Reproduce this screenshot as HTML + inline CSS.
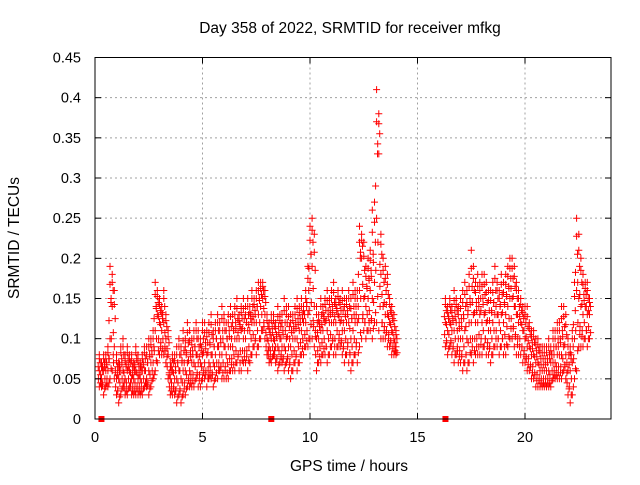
<!DOCTYPE html>
<html><head><meta charset="utf-8"><style>
body{margin:0;background:#fff}
svg text{font-family:"Liberation Sans",sans-serif;font-size:14.5px;fill:#000}
svg text.t{font-size:15.5px}
</style></head><body>
<svg id="chart" width="640" height="480" viewBox="0 0 640 480" xmlns="http://www.w3.org/2000/svg">
<rect width="640" height="480" fill="#fff"/>
<g id="grid"></g>
<g id="marks"></g>
<g id="axes"></g>
<text class="t" x="350" y="33" text-anchor="middle">Day 358 of 2022, SRMTID for receiver mfkg</text>
<text class="t" x="349" y="471" text-anchor="middle">GPS time / hours</text>
<text class="t" x="19" y="238" text-anchor="middle" transform="rotate(-90 19 238)">SRMTID / TECUs</text>
</svg>
<script>
const xTicks=[0,5,10,15,20];
const yTicks=[0,0.05,0.1,0.15,0.2,0.25,0.3,0.35,0.4,0.45];
const yTickLabels=["0","0.05","0.1","0.15","0.2","0.25","0.3","0.35","0.4","0.45"];
const tA=[0.2,0.3,0.4,0.5,0.6,0.7,0.8,0.9,1.0,1.1,1.2,1.3,1.4,1.5,1.6,1.7,1.8,1.9,2.0,2.1,2.2,2.3,2.4,2.5,2.6,2.7,2.8,2.9,3.0,3.1,3.2,3.3,3.4,3.5,3.6,3.7,3.8,3.9,4.0,4.1,4.2,4.3,4.4,4.5,4.6,4.7,4.8,4.9,5.0,5.1,5.2,5.3,5.4,5.5,5.6,5.7,5.8,5.9,6.0,6.1,6.2,6.3,6.4,6.5,6.6,6.7,6.8,6.9,7.0,7.1,7.2,7.3,7.4,7.5,7.6,7.7,7.8,7.9,8.0,8.1,8.2,8.3,8.4,8.5,8.6,8.7,8.8,8.9,9.0,9.1,9.2,9.3,9.4,9.5,9.6,9.7,9.8,9.9,10.0,10.1,10.2,10.3,10.4,10.5,10.6,10.7,10.8,10.9,11.0,11.1,11.2,11.3,11.4,11.5,11.6,11.7,11.8,11.9,12.0,12.1,12.2,12.3,12.4,12.5,12.6,12.7,12.8,12.9,13.0,13.1,13.2,13.3,13.4,13.5,13.6,13.7,13.8,13.9,14.0,
16.3,16.4,16.5,16.6,16.7,16.8,16.9,17.0,17.1,17.2,17.3,17.4,17.5,17.6,17.7,17.8,17.9,18.0,18.1,18.2,18.3,18.4,18.5,18.6,18.7,18.8,18.9,19.0,19.1,19.2,19.3,19.4,19.5,19.6,19.7,19.8,19.9,20.0,20.1,20.2,20.3,20.4,20.5,20.6,20.7,20.8,20.9,21.0,21.1,21.2,21.3,21.4,21.5,21.6,21.7,21.8,21.9,22.0,22.1,22.2,22.3,22.4,22.5,22.6,22.7,22.8,22.9,23.0];
const lo=[4,4,3,4,4,5,6,5,3,2,3,4,3,3,4,3,3,3,3,3,3,4,4,3,4,5,6,7,8,8,8,7,5,3,3,3,2,3,2,3,3,4,4,4,4,5,4,4,5,5,4,5,5,4,5,5,6,5,5,5,5,6,6,6,7,6,6,7,7,6,7,8,9,8,9,10,11,10,8,7,7,8,7,6,7,7,6,7,6,5,6,7,6,7,8,8,9,9,10,10,9,6,7,7,8,8,7,8,9,8,8,9,9,8,7,8,7,6,7,8,7,9,10,11,10,11,11,10,12,12,11,10,10,10,9,9,8,8,8,
9,8,9,8,7,8,7,7,6,7,6,7,8,7,8,8,8,8,9,8,8,7,8,9,9,8,9,8,8,9,10,10,9,8,8,8,7,7,6,6,5,5,4,4,4,4,4,4,4,4,5,5,5,5,5,6,5,3,2,3,5,6,9,9,9,10,9,10];
const mid=[6,5,6,6,6,10,14,9,5,5,6,6,5,6,6,5,5,6,5,5,6,6,5,6,7,7,11,13,12,11,12,10,8,5,6,5,5,6,5,6,6,7,6,7,7,8,7,7,8,7,8,7,8,7,8,9,8,8,9,8,9,9,9,10,10,10,11,10,10,11,11,12,12,12,13,14,15,13,10,9,10,10,9,9,10,9,9,10,9,9,10,10,10,11,11,12,12,13,17,19,14,10,10,11,11,12,11,12,12,12,12,13,12,11,11,12,12,10,11,12,12,16,20,15,14,15,16,15,17,25,33,18,14,13,13,12,11,10,9,
12,11,12,11,11,12,10,10,10,11,10,12,12,13,12,12,13,12,13,12,11,11,12,13,13,12,13,12,13,14,15,15,14,13,12,12,11,10,9,9,8,8,7,7,6,6,6,6,6,7,7,7,8,8,8,9,8,6,6,7,10,16,15,14,13,14,13,13];
const hi=[8,7,8,8,9,19,18,16,8,7,9,10,8,9,8,8,7,9,8,7,8,9,9,10,10,11,17,16,15,14,16,13,11,7,8,8,9,10,9,11,10,12,11,10,11,12,11,10,12,12,11,12,13,11,12,13,12,14,13,12,13,14,13,14,15,13,14,15,14,15,14,16,15,16,17,17,17,16,13,12,13,13,12,14,13,13,15,14,14,13,13,14,15,14,15,14,16,19,24,25,23,14,13,15,14,15,16,15,16,17,15,16,15,16,15,15,16,15,17,16,16,24,23,22,19,20,21,26,27,41,38,23,20,19,18,15,14,13,11,
15,14,15,14,16,15,14,15,16,17,16,18,21,19,17,18,17,18,18,17,16,16,17,19,17,16,18,17,18,19,20,20,19,17,16,15,14,14,14,12,11,11,10,10,9,9,9,9,10,9,11,11,12,12,14,14,13,10,9,11,17,25,23,20,18,17,17,15];
const zeroT=[0.3,8.2,16.3];

const X0=95,X1=611,Y0=419,Y1=57.5;
const xs=v=>X0+(v/24)*(X1-X0);
const ys=v=>Y0-(v/0.45)*(Y0-Y1);
const NS="http://www.w3.org/2000/svg";
function mk(tag,attrs,parent){const e=document.createElementNS(NS,tag);for(const k in attrs)e.setAttribute(k,attrs[k]);parent.appendChild(e);return e;}
const grid=document.getElementById('grid'),axes=document.getElementById('axes'),marks=document.getElementById('marks');
xTicks.forEach((t,i)=>{
  const x=xs(t);
  if(t>0){const g=mk('line',{x1:x,x2:x,y1:Y1,y2:Y0,stroke:'#a0a0a0','stroke-dasharray':'2,3','stroke-width':1},grid);
  
  }
  mk('line',{x1:x,x2:x,y1:Y0,y2:Y0-6,stroke:'#000'},axes);
  mk('line',{x1:x,x2:x,y1:Y1,y2:Y1+6,stroke:'#000'},axes);
  const tx=mk('text',{x:x,y:Y0+23,'text-anchor':'middle'},axes);tx.textContent=String(t);
  
  
});
yTicks.forEach((v,i)=>{
  const y=ys(v);
  if(i>0&&i<yTicks.length-1){const g=mk('line',{x1:X0,x2:X1,y1:y,y2:y,stroke:'#a0a0a0','stroke-dasharray':'2,3','stroke-width':1},grid);
  
  }
  mk('line',{x1:X0,x2:X0+6,y1:y,y2:y,stroke:'#000'},axes);
  mk('line',{x1:X1,x2:X1-6,y1:y,y2:y,stroke:'#000'},axes);
  const tx=mk('text',{x:X0-14,y:y+5,'text-anchor':'end'},axes);tx.textContent=yTickLabels[i];
  
  
});
const frame=mk('rect',{x:X0,y:Y1,width:X1-X0,height:Y0-Y1,fill:'none',stroke:'#000','stroke-width':1},axes);


let d='';
function plus(t,v){const x=xs(t),y=ys(v);d+=`M${(x-3.5).toFixed(1)} ${y.toFixed(1)}h7M${x.toFixed(1)} ${(y-3.5).toFixed(1)}v7`;}
tA.forEach((t,i)=>{
  const a=lo[i]/100,b=mid[i]/100,c=hi[i]/100;
  plus(t,a);plus(t,b);plus(t,c);
  plus(t-0.04,(a+b)/2);plus(t+0.04,(b+c)/2);
  plus(t+0.05,(a*3+b)/4);plus(t-0.05,(b*3+c)/4);plus(t,(b+c*3)/4);
});
const p=mk('path',{d:d,stroke:'#ff0000','stroke-width':1,fill:'none'},marks);


zeroT.forEach(t=>{
  const r=mk('rect',{x:xs(t)-3,y:Y0-3,width:6,height:6,fill:'#ff0000'},marks);
  
  
});
</script>
</body></html>
